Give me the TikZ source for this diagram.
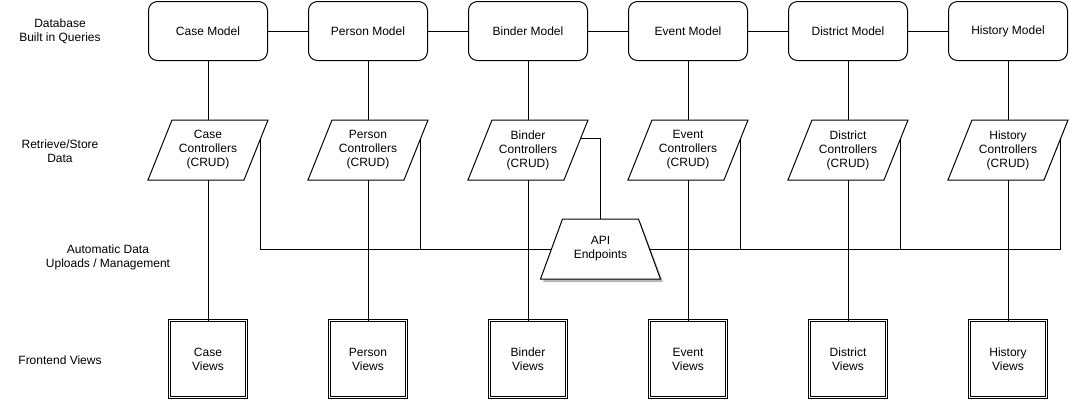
\documentclass[tikz,border=0pt]{standalone}
\usepackage{fontspec}
\setmainfont{Liberation Sans}
\usetikzlibrary{calc}
\begin{document}
\begin{tikzpicture}[x=1pt,y=-1pt,line width=1pt,
  every node/.style={font=\fontsize{12}{14}\selectfont,align=center,inner sep=0pt,outer sep=0pt},
  model/.style={draw,rounded corners=9pt,minimum width=119pt,minimum height=59pt},
  box/.style={minimum width=120pt,minimum height=60pt},
  view/.style={draw,double,double distance=1.5pt,line width=0.8pt,minimum width=77pt,minimum height=77pt},
  lbl/.style={},
  shape line/.style={line width=1pt,line join=miter},
  shadowfill/.style={fill=black!28,draw=none}
]
\useasboundingbox (0,0) rectangle (1069,400);

% left labels
\node[lbl] (l1) at (60,31) {Database\\Built in Queries};
\node[lbl] (l2) at (60,151) {Retrieve/Store\\Data};
\node[lbl] (l3) at (108,257) {Automatic Data\\Uploads / Management};
\node[lbl] (l4) at (60,360) {Frontend Views};

% models
\node[model] (m1) at (208,31) {Case Model};
\node[model] (m2) at (368,31) {Person Model};
\node[model] (m3) at (528,31) {Binder Model};
\node[model] (m4) at (688,31) {Event Model};
\node[model] (m5) at (848,31) {District Model};
\node[model] (m6) at (1008,31) {History Model};

% controllers (parallelograms)
\node[box] (c1) at (208,150) {Case\\Controllers\\(CRUD)};
\node[box] (c2) at (368,150) {Person\\Controllers\\(CRUD)};
\node[box] (c3) at (528,150) {Binder\\Controllers\\(CRUD)};
\node[box] (c4) at (688,150) {Event\\Controllers\\(CRUD)};
\node[box] (c5) at (848,150) {District\\Controllers\\(CRUD)};
\node[box] (c6) at (1008,150) {History\\Controllers\\(CRUD)};
\foreach \i in {1,...,6}{
  \draw[shape line] ($(c\i.north west)+(24,0)$) -- (c\i.north east)
     -- ($(c\i.south east)-(24,0)$) -- (c\i.south west) -- cycle;
  \coordinate (r\i) at ($(c\i.north east)!0.31!($(c\i.south east)-(24,0)$)$);
}

% views
\node[view] (v1) at (208,359) {Case\\Views};
\node[view] (v2) at (368,359) {Person\\Views};
\node[view] (v3) at (528,359) {Binder\\Views};
\node[view] (v4) at (688,359) {Event\\Views};
\node[view] (v5) at (848,359) {District\\Views};
\node[view] (v6) at (1008,359) {History\\Views};

% model row
\draw (m1) -- (m2) -- (m3) -- (m4) -- (m5) -- (m6);

% vertical connectors
\foreach \i in {1,...,6}{
  \draw (m\i.south) -- (c\i.north);
  \draw (c\i.south) -- (v\i.north);
}

% API trapezoid with shadow
\node[box] (api) at (600.5,249) {};
\fill[shadowfill] ($(api.north west)+(24,3)$) -- ($(api.north east)+(-20,3)$)
   -- ($(api.south east)+(2.5,3)$) -- ($(api.south west)+(2.5,3)$) -- cycle;
\draw[shape line,fill=white] ($(api.north west)+(22,0)$) -- ($(api.north east)-(22,0)$)
   -- (api.south east) -- (api.south west) -- cycle;
\node (apit) at (api.center) {API\\Endpoints};
\coordinate (apiw) at ($(api.west)+(11,0)$);
\coordinate (apie) at ($(api.east)-(11,0)$);

% bus connectors
\draw (r1) |- (apiw);
\draw (r2) |- (apiw);
\draw (r4) |- (apie);
\draw (r5) |- (apie);
\draw (r6) |- (apie);
\draw (r3) -| (api.north);
\end{tikzpicture}
\end{document}
